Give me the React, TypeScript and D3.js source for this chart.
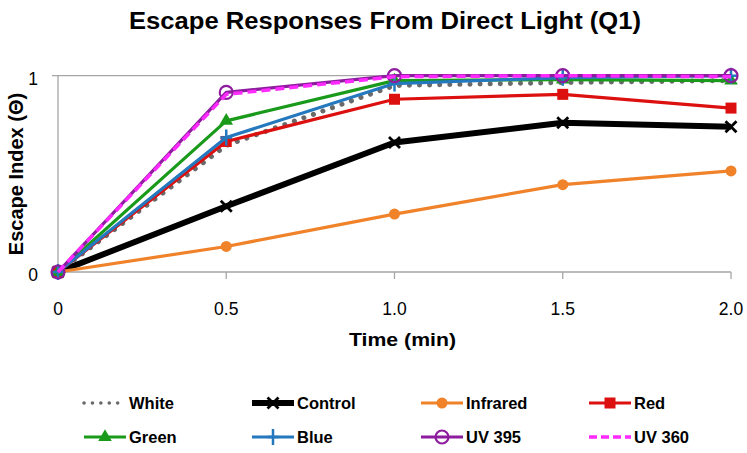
import React from "react";
import * as d3 from "d3";

const times = [0, 0.5, 1.0, 1.5, 2.0];
const xTickLabels = ["0", "0.5", "1.0", "1.5", "2.0"];
const yTicks = [0, 1];

const seriesNames = ["White", "Control", "Infrared", "Red", "Green", "Blue", "UV 395", "UV 360"];
const white = [0, 0.645, 0.95, 0.965, 0.975];
const control = [0, 0.335, 0.66, 0.76, 0.74];
const infrared = [0, 0.13, 0.295, 0.445, 0.515];
const red = [0, 0.665, 0.88, 0.905, 0.835];
const green = [0, 0.77, 0.975, 0.98, 0.975];
const blue = [0, 0.685, 0.96, 0.99, 1.0];
const uv395 = [0, 0.915, 1.0, 1.0, 1.0];
const uv360 = [0, 0.905, 0.995, 1.0, 0.995];

const W = 747;
const H = 453;
const FONT = "'Liberation Sans', Arial, sans-serif";

type Style = {
  color: string;
  width: number;
  dash?: string;
  legendDash?: string;
  legendWidth?: number;
  cap?: string;
  marker: "none" | "x" | "circle" | "square" | "triangle" | "plus" | "ring";
};

const styles: Style[] = [
  { color: "#6A6A6A", width: 5, dash: "0.1 10", legendDash: "0.1 8.3", legendWidth: 3.5, cap: "round", marker: "none" },
  { color: "#000000", width: 6, marker: "x" },
  { color: "#F0822A", width: 3.2, marker: "circle" },
  { color: "#DD1010", width: 3.2, marker: "square" },
  { color: "#1A9A1A", width: 3.2, marker: "triangle" },
  { color: "#2478BE", width: 3.2, marker: "plus" },
  { color: "#8E1C9E", width: 3.2, marker: "ring" },
  { color: "#FF2AFF", width: 3.5, dash: "9 5", legendDash: "8 4", marker: "none" },
];

const allValues = [white, control, infrared, red, green, blue, uv395, uv360];

function Marker({ kind, cx, cy, color }: { kind: Style["marker"]; cx: number; cy: number; color: string }) {
  switch (kind) {
    case "x":
      return (
        <path
          d={`M${cx - 5.5},${cy - 5.5}L${cx + 5.5},${cy + 5.5}M${cx - 5.5},${cy + 5.5}L${cx + 5.5},${cy - 5.5}`}
          stroke={color}
          strokeWidth={2.8}
          fill="none"
        />
      );
    case "circle":
      return <circle cx={cx} cy={cy} r={5.5} fill={color} />;
    case "square":
      return <rect x={cx - 5.5} y={cy - 5.5} width={11} height={11} fill={color} />;
    case "triangle":
      return <path d={d3.symbol(d3.symbolTriangle, 80)() as string} transform={`translate(${cx},${cy})`} fill={color} />;
    case "plus":
      return (
        <path
          d={`M${cx - 6},${cy}L${cx + 6},${cy}M${cx},${cy - 8}L${cx},${cy + 8}`}
          stroke={color}
          strokeWidth={2.5}
          fill="none"
        />
      );
    case "ring":
      return <circle cx={cx} cy={cy} r={6.5} fill="none" stroke={color} strokeWidth={2.2} />;
    default:
      return null;
  }
}

function LegendSample({ st, x, y }: { st: Style; x: number; y: number }) {
  const x0 = x;
  const x1 = x + 42;
  return (
    <g>
      <line
        x1={x0}
        x2={x1}
        y1={y}
        y2={y}
        stroke={st.color}
        strokeWidth={st.legendWidth ?? st.width}
        strokeDasharray={st.legendDash}
        strokeLinecap={(st.cap as any) || "butt"}
      />
      <Marker kind={st.marker} cx={(x0 + x1) / 2} cy={y} color={st.color} />
    </g>
  );
}

export default function App() {
  const x = d3.scaleLinear().domain([0, 2]).range([58, 731]);
  const y = d3.scaleLinear().domain([0, 1]).range([272, 75.7]);
  const line = d3
    .line<number>()
    .x((_, i) => x(times[i]))
    .y((d) => y(d));

  const grid = "#A6A6A6";

  const legendCols = [84, 252, 421, 589];
  const legendRows = [403, 437];

  return (
    <svg
      width={W}
      height={H}
      style={{ position: "absolute", left: 0, top: 0, background: "#fff" }}
      fontFamily={FONT}
    >
      <rect width={W} height={H} fill="#fff" />
      <text
        x={129}
        y={29}
        fontSize={23}
        fontWeight="bold"
        fill="#000"
        textLength={512}
        lengthAdjust="spacingAndGlyphs"
      >
        Escape Responses From Direct Light (Q1)
      </text>

      <line x1={x(0) - 6} x2={x(2)} y1={y(1)} y2={y(1)} stroke={grid} strokeWidth={1.3} />
      <line x1={x(0) - 6} x2={x(2)} y1={y(0)} y2={y(0)} stroke={grid} strokeWidth={1.3} />
      <line x1={x(0)} x2={x(0)} y1={y(0)} y2={y(1)} stroke={grid} strokeWidth={1.3} />
      {times.map((t) => (
        <line key={t} x1={x(t)} x2={x(t)} y1={y(0)} y2={y(0) + 7} stroke={grid} strokeWidth={1.3} />
      ))}

      {yTicks.map((v) => (
        <text key={v} x={38} y={y(v) + 9} textAnchor="end" fontSize={17.5} fill="#000">
          {v}
        </text>
      ))}
      {times.map((t, i) => (
        <text key={t} x={x(t)} y={315} textAnchor="middle" fontSize={17.5} fill="#000">
          {xTickLabels[i]}
        </text>
      ))}

      <text
        x={349}
        y={346}
        fontSize={18}
        fontWeight="bold"
        fill="#000"
        textLength={107}
        lengthAdjust="spacingAndGlyphs"
      >
        Time (min)
      </text>
      <text
        transform={`translate(23,174) rotate(-90)`}
        textAnchor="middle"
        fontSize={20}
        fontWeight="bold"
        fill="#000"
      >
        Escape Index (Θ)
      </text>

      {allValues.map((vals, si) => {
        const st = styles[si];
        return (
          <g key={si}>
            <path
              d={line(vals) as string}
              fill="none"
              stroke={st.color}
              strokeWidth={st.width}
              strokeDasharray={st.dash}
              strokeLinecap={(st.cap as any) || "butt"}
              strokeLinejoin="round"
            />
            {vals.map((v, i) => (
              <Marker key={i} kind={st.marker} cx={x(times[i])} cy={y(v)} color={st.color} />
            ))}
          </g>
        );
      })}

      {seriesNames.map((name, i) => {
        const col = legendCols[i % 4];
        const row = legendRows[Math.floor(i / 4)];
        return (
          <g key={name}>
            <LegendSample st={styles[i]} x={col} y={row} />
            <text x={col + 45} y={row + 6} fontSize={16.5} fontWeight="bold" fill="#000">
              {name}
            </text>
          </g>
        );
      })}
    </svg>
  );
}
